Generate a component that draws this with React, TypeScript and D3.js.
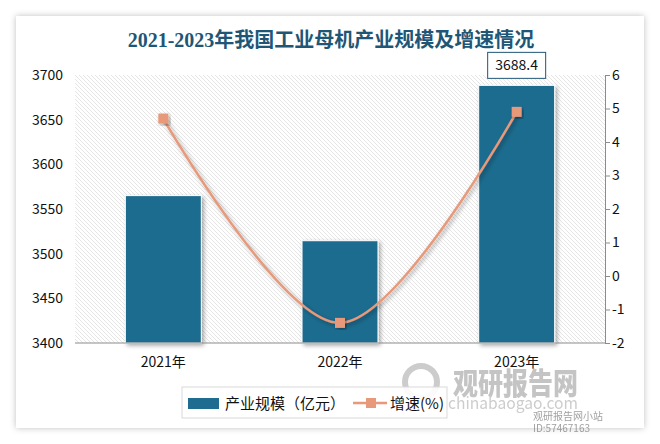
import * as d3 from "d3";
import { useEffect, useRef } from "react";

const years = ["2021年", "2022年", "2023年"];
const scale = [3565, 3514.5, 3688.4];
const growth = [4.7, -1.4, 4.9];
const leftTicks = [3400, 3450, 3500, 3550, 3600, 3650, 3700];
const rightTicks = [-2, -1, 0, 1, 2, 3, 4, 5, 6];

const FONT = "'Noto Sans CJK SC', 'Noto Sans', sans-serif";
const TITLE_FONT = "'Liberation Serif', 'Noto Sans CJK SC', serif";

export default function App() {
  const svgRef = useRef<SVGSVGElement | null>(null);

  useEffect(() => {
    if (!svgRef.current) return;
    const svg = d3.select(svgRef.current);
    svg.selectAll("*").remove();

    const width = 660;
    const height = 444;
    const margin = { top: 75, right: 55, bottom: 101, left: 75 };
    const x0 = margin.left;
    const x1 = width - margin.right;
    const y0 = height - margin.bottom;
    const y1 = margin.top;

    const defs = svg.append("defs");
    const pat = defs
      .append("pattern")
      .attr("id", "hatch")
      .attr("width", 4)
      .attr("height", 4)
      .attr("patternUnits", "userSpaceOnUse");
    pat.append("rect").attr("width", 4).attr("height", 4).attr("fill", "#ffffff");
    pat
      .append("path")
      .attr("d", "M-1,-1 L5,5 M-1,3 L1,5 M3,-1 L5,1")
      .attr("stroke", "#dadada")
      .attr("stroke-width", 0.7);

    const shadow = defs.append("filter").attr("id", "shadow").attr("x", "-20%").attr("y", "-20%").attr("width", "140%").attr("height", "140%");
    shadow.append("feDropShadow").attr("dx", 2).attr("dy", 2).attr("stdDeviation", 2).attr("flood-color", "#000").attr("flood-opacity", 0.35);

    const cardShadow = defs.append("filter").attr("id", "cardShadow").attr("x", "-5%").attr("y", "-5%").attr("width", "110%").attr("height", "110%");
    cardShadow.append("feDropShadow").attr("dx", 0).attr("dy", 0).attr("stdDeviation", 3).attr("flood-color", "#000").attr("flood-opacity", 0.25);

    // page + card
    svg.append("rect").attr("width", width).attr("height", height).attr("fill", "#ffffff");
    svg
      .append("rect")
      .attr("x", 16)
      .attr("y", 16)
      .attr("width", 628)
      .attr("height", 412)
      .attr("fill", "#ffffff")
      .attr("filter", "url(#cardShadow)");

    // title
    svg
      .append("text")
      .attr("x", 331)
      .attr("y", 47)
      .attr("text-anchor", "middle")
      .attr("font-family", TITLE_FONT)
      .attr("font-size", 20)
      .attr("font-weight", 700)
      .attr("fill", "#1f5676")
      .text("2021-2023年我国工业母机产业规模及增速情况");

    const x = d3.scaleBand().domain(years).range([x0, x1]).paddingInner(0.57).paddingOuter(0.285);
    const yL = d3.scaleLinear().domain([3400, 3700]).range([y0, y1]);
    const yR = d3.scaleLinear().domain([-2, 6]).range([y0, y1]);

    // plot background
    svg.append("rect").attr("x", x0).attr("y", y1).attr("width", x1 - x0).attr("height", y0 - y1).attr("fill", "url(#hatch)");

    // bars
    svg
      .append("g")
      .selectAll("rect")
      .data(scale)
      .join("rect")
      .attr("x", (_, i) => x(years[i])!)
      .attr("y", (d) => yL(d))
      .attr("width", x.bandwidth())
      .attr("height", (d) => y0 - yL(d))
      .attr("fill", "#1e6c8f")
      .attr("stroke", "#ffffff")
      .attr("stroke-width", 1)
      .attr("filter", "url(#shadow)");

    // axes
    svg.append("line").attr("x1", x0).attr("x2", x1).attr("y1", y0).attr("y2", y0).attr("stroke", "#8c8c8c").attr("stroke-width", 1);

    const leftAxis = svg
      .append("g")
      .attr("transform", `translate(${x0},0)`)
      .call(d3.axisLeft(yL).tickValues(leftTicks).tickSize(0).tickPadding(12).tickFormat((d) => `${d}`) as any);
    leftAxis.select(".domain").remove();
    leftAxis.selectAll("text").attr("font-family", FONT).attr("font-size", 14).attr("fill", "#111");

    const rightAxis = svg
      .append("g")
      .attr("transform", `translate(${x1},0)`)
      .call(d3.axisRight(yR).tickValues(rightTicks).tickSize(5).tickSizeOuter(5).tickPadding(2).tickFormat((d) => `${d}`) as any);
    rightAxis.select(".domain").attr("stroke", "#8c8c8c");
    rightAxis.selectAll("line").attr("stroke", "#8c8c8c");
    rightAxis.selectAll("text").attr("font-family", FONT).attr("font-size", 14).attr("fill", "#111");

    const bottomAxis = svg
      .append("g")
      .attr("transform", `translate(0,${y0})`)
      .call(d3.axisBottom(x).tickSize(0).tickPadding(14) as any);
    bottomAxis.select(".domain").remove();
    bottomAxis.selectAll("text").attr("font-family", FONT).attr("font-size", 14).attr("fill", "#111");

    // watermark (drawn under the legend)
    const wm = svg.append("g").attr("opacity", 0.5);
    wm.append("circle").attr("cx", 421).attr("cy", 382).attr("r", 16).attr("fill", "none").attr("stroke", "#9a9a9a").attr("stroke-width", 6);
    wm.append("text").attr("x", 453).attr("y", 394).attr("font-family", FONT).attr("font-size", 30).attr("font-weight", 900).attr("fill", "#8a8a8a").attr("textLength", 125).attr("lengthAdjust", "spacingAndGlyphs").text("观研报告网");
    wm.append("text").attr("x", 448).attr("y", 409).attr("font-family", FONT).attr("font-size", 16).attr("fill", "#9a9a9a").attr("textLength", 130).attr("lengthAdjust", "spacingAndGlyphs").text("chinabaogao.com");
    svg.append("text").attr("x", 533).attr("y", 420).attr("font-family", FONT).attr("font-size", 10).attr("fill", "#888").attr("opacity", 0.8).text("观研报告网小站");
    svg.append("text").attr("x", 533).attr("y", 432).attr("font-family", FONT).attr("font-size", 10).attr("fill", "#888").attr("opacity", 0.8).text("ID:57467163");

    // growth line
    const cx = (i: number) => x(years[i])! + x.bandwidth() / 2;
    const line = d3
      .line<number>()
      .x((_, i) => cx(i))
      .y((d) => yR(d))
      .curve(d3.curveCardinal.tension(0));
    svg
      .append("path")
      .datum(growth)
      .attr("d", line)
      .attr("fill", "none")
      .attr("stroke", "#e8997a")
      .attr("stroke-width", 2.5)
      .attr("filter", "url(#shadow)");
    svg
      .append("g")
      .selectAll("rect")
      .data(growth)
      .join("rect")
      .attr("x", (_, i) => cx(i) - 5)
      .attr("y", (d) => yR(d) - 5)
      .attr("width", 10)
      .attr("height", 10)
      .attr("fill", "#e8997a")
      .attr("filter", "url(#shadow)");

    // data label for 2023
    const lx = cx(2);
    const ly = yL(scale[2]) - 20;
    svg
      .append("rect")
      .attr("x", lx - 29)
      .attr("y", ly - 13)
      .attr("width", 58)
      .attr("height", 26)
      .attr("fill", "#ffffff")
      .attr("stroke", "#1f5676")
      .attr("stroke-width", 1);
    svg
      .append("text")
      .attr("x", lx)
      .attr("y", ly + 5)
      .attr("text-anchor", "middle")
      .attr("font-family", FONT)
      .attr("font-size", 14)
      .attr("fill", "#111")
      .text(d3.format(".1f")(scale[2]));

    // legend
    const lg = svg.append("g");
    lg.append("rect").attr("x", 182).attr("y", 387).attr("width", 265).attr("height", 31).attr("fill", "#ffffff").attr("fill-opacity", 0.9).attr("stroke", "#d9d9d9");
    lg.append("rect").attr("x", 188).attr("y", 398).attr("width", 31).attr("height", 11).attr("fill", "#1e6c8f");
    lg.append("text").attr("x", 225).attr("y", 409).attr("font-family", FONT).attr("font-size", 15).attr("fill", "#111").text("产业规模（亿元）");
    lg.append("line").attr("x1", 353).attr("x2", 387).attr("y1", 403).attr("y2", 403).attr("stroke", "#e8997a").attr("stroke-width", 2.5);
    lg.append("rect").attr("x", 366).attr("y", 398).attr("width", 10).attr("height", 10).attr("fill", "#e8997a");
    lg.append("text").attr("x", 390).attr("y", 409).attr("font-family", FONT).attr("font-size", 15).attr("fill", "#111").text("增速(%)");
  }, []);

  return <svg ref={svgRef} width={660} height={444} style={{ position: "absolute", left: 0, top: 0 }} />;
}
